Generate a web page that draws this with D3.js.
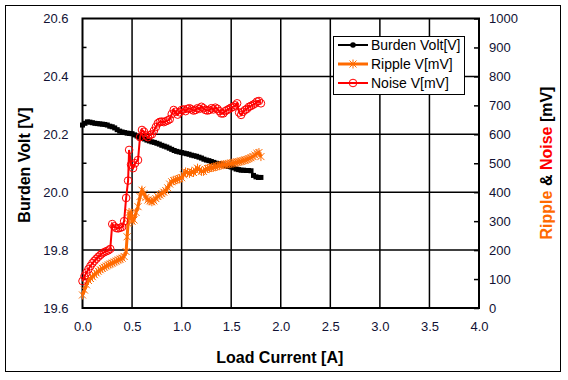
<!DOCTYPE html>
<html><head><meta charset="utf-8">
<script src="https://cdn.jsdelivr.net/npm/d3@7"></script>
<style>body{margin:0;background:#fff}svg{display:block}</style>
</head><body><svg id="c" width="568" height="380"></svg>
<script>
const xTicks = [0,0.5,1.0,1.5,2.0,2.5,3.0,3.5,4.0];
const leftTicks = [19.6,19.8,20.0,20.2,20.4,20.6];
const leftMinor = [19.7,19.9,20.1,20.3,20.5];
const rightTicks = [0,100,200,300,400,500,600,700,800,900,1000];

const burdenCurrent = [0,0.025,0.05,0.075,0.1,0.125,0.15,0.175,0.2,0.225,0.25,0.275,0.3,0.325,0.35,0.375,0.4,0.425,0.45,0.475,0.5,0.525,0.55,0.575,0.6,0.625,0.65,0.675,0.7,0.725,0.75,0.775,0.8,0.825,0.85,0.875,0.9,0.925,0.95,0.975,1.0,1.025,1.05,1.075,1.1,1.125,1.15,1.175,1.2,1.225,1.25,1.275,1.3,1.325,1.35,1.375,1.4,1.425,1.45,1.475,1.5,1.525,1.55,1.575,1.6,1.625,1.65,1.675,1.7,1.725,1.75,1.775,1.8];
const burdenVolt = [20.232,20.238,20.243,20.242,20.240,20.238,20.237,20.236,20.235,20.234,20.232,20.228,20.226,20.222,20.216,20.211,20.208,20.206,20.204,20.203,20.202,20.198,20.194,20.190,20.187,20.184,20.180,20.177,20.174,20.172,20.169,20.166,20.162,20.159,20.156,20.152,20.148,20.144,20.141,20.139,20.137,20.135,20.133,20.131,20.128,20.126,20.124,20.121,20.118,20.114,20.111,20.109,20.106,20.103,20.100,20.099,20.097,20.094,20.091,20.089,20.087,20.084,20.080,20.078,20.076,20.076,20.075,20.075,20.074,20.058,20.053,20.051,20.051];

const rippleCurrent = [0,0.02,0.04,0.06,0.08,0.1,0.12,0.14,0.16,0.18,0.2,0.22,0.24,0.26,0.28,0.3,0.32,0.34,0.36,0.38,0.4,0.42,0.44,0.45,0.46,0.47,0.48,0.49,0.5,0.52,0.54,0.56,0.58,0.6,0.62,0.64,0.66,0.68,0.7,0.72,0.74,0.76,0.78,0.8,0.82,0.84,0.86,0.88,0.9,0.92,0.94,0.96,0.98,1.0,1.02,1.04,1.06,1.08,1.1,1.12,1.14,1.16,1.18,1.2,1.22,1.24,1.26,1.28,1.3,1.32,1.34,1.36,1.38,1.4,1.42,1.44,1.46,1.48,1.5,1.52,1.54,1.56,1.58,1.6,1.62,1.64,1.66,1.68,1.7,1.72,1.74,1.76,1.78,1.8];
const rippleMv = [45,62,80,95,102,108,115,121,127,132,137,141,145,149,152,155,159,162,166,169,172,178,195,246,292,330,320,327,300,304,330,350,385,407,395,382,373,370,367,370,378,385,390,395,400,405,415,428,436,440,442,445,447,450,460,470,468,465,470,468,476,483,478,472,472,478,482,483,485,486,488,490,492,494,495,496,497,498,500,501,502,504,505,507,509,511,513,516,519,523,528,534,537,523];

const noiseCurrent = [0,0.02,0.04,0.06,0.08,0.1,0.12,0.14,0.16,0.18,0.2,0.22,0.24,0.26,0.28,0.3,0.32,0.34,0.36,0.38,0.4,0.42,0.44,0.46,0.47,0.49,0.51,0.53,0.56,0.58,0.6,0.62,0.64,0.66,0.68,0.7,0.72,0.74,0.76,0.78,0.8,0.82,0.84,0.86,0.88,0.9,0.92,0.94,0.96,0.98,1.0,1.02,1.04,1.06,1.08,1.1,1.12,1.14,1.16,1.18,1.2,1.22,1.24,1.26,1.28,1.3,1.32,1.34,1.36,1.38,1.4,1.42,1.44,1.46,1.48,1.5,1.52,1.54,1.56,1.58,1.6,1.62,1.64,1.66,1.68,1.7,1.72,1.74,1.76,1.78,1.8];
const noiseMv = [93,110,122,134,145,155,163,170,177,183,189,193,196,199,204,290,282,276,275,277,280,300,380,440,546,495,483,500,511,590,615,609,596,590,597,600,612,625,638,643,644,642,645,648,652,670,684,678,668,676,684,686,680,688,690,686,682,684,690,688,695,690,684,682,684,690,686,692,688,680,672,672,680,684,688,692,695,700,707,675,667,678,684,688,695,698,702,706,713,715,707];

const W = 568, H = 380;
const L = 82.5, R = 479, T = 18.5, B = 308;
const svg = d3.select('#c');
const x = d3.scaleLinear().domain([0,4]).range([L,R]);
const yL = d3.scaleLinear().domain([19.6,20.6]).range([B,T]);
const yR = d3.scaleLinear().domain([0,1000]).range([B,T]);
const font = "'Liberation Sans', Arial, sans-serif";
const tickColor = '#111133';

svg.append('rect').attr('x',5.5).attr('y',5.5).attr('width',555).attr('height',366)
  .attr('fill','#fff').attr('stroke','#000').attr('stroke-width',1);

// gridlines
svg.append('g').selectAll('line').data(xTicks.slice(1,-1)).join('line')
  .attr('x1',d=>x(d)).attr('x2',d=>x(d)).attr('y1',T).attr('y2',B)
  .attr('stroke','#000').attr('stroke-width',1.5);
svg.append('g').selectAll('line').data(leftTicks.slice(1,-1)).join('line')
  .attr('x1',L).attr('x2',R).attr('y1',d=>yL(d)).attr('y2',d=>yL(d))
  .attr('stroke','#000').attr('stroke-width',1.5);

// axes via d3
const gx = svg.append('g').attr('transform',`translate(0,${B})`)
  .call(d3.axisBottom(x).tickValues(xTicks).tickSize(0).tickPadding(14).tickFormat(d3.format('.1f')));
const gl = svg.append('g').attr('transform',`translate(${L},0)`)
  .call(d3.axisLeft(yL).tickValues(leftTicks).tickSize(0).tickPadding(14).tickFormat(d3.format('.1f')));
const gr = svg.append('g').attr('transform',`translate(${R},0)`)
  .call(d3.axisRight(yR).tickValues(rightTicks).tickSize(-5).tickPadding(10).tickFormat(d3.format('d')));
[gx,gl,gr].forEach(g=>{
  g.select('.domain').remove();
  g.selectAll('text').attr('font-family',font).attr('font-size',13).attr('fill',tickColor);
});
gr.selectAll('line').attr('stroke','#000').attr('stroke-width',1.5);
svg.append('g').selectAll('line').data(leftMinor).join('line')
  .attr('x1',L).attr('x2',L+4).attr('y1',d=>yL(d)).attr('y2',d=>yL(d))
  .attr('stroke','#000').attr('stroke-width',1.5);

// plot frame
svg.append('rect').attr('x',L).attr('y',T).attr('width',R-L).attr('height',B-T)
  .attr('fill','none').attr('stroke','#000').attr('stroke-width',2);

// series
const burden = burdenCurrent.map((c,i)=>[c,burdenVolt[i]]);
const ripple = rippleCurrent.map((c,i)=>[c,rippleMv[i]]);
const noise = noiseCurrent.map((c,i)=>[c,noiseMv[i]]);
const orange = '#ff6a00', red = '#ff0000';

svg.append('path').datum(burden)
  .attr('d',d3.line().x(d=>x(d[0])).y(d=>yL(d[1])))
  .attr('fill','none').attr('stroke','#000').attr('stroke-width',2);
svg.append('g').selectAll('rect').data(burden).join('rect')
  .attr('x',d=>x(d[0])-2.5).attr('y',d=>yL(d[1])-2.5).attr('width',5).attr('height',5)
  .attr('fill','#000');

svg.append('path').datum(ripple)
  .attr('d',d3.line().x(d=>x(d[0])).y(d=>yR(d[1])))
  .attr('fill','none').attr('stroke',orange).attr('stroke-width',3);
const star = 'M-3.5,-3.5L3.5,3.5M-3.5,3.5L3.5,-3.5M0,-4.5L0,4.5';
svg.append('g').selectAll('path').data(ripple).join('path')
  .attr('transform',d=>`translate(${x(d[0])},${yR(d[1])})`).attr('d',star)
  .attr('fill','none').attr('stroke',orange).attr('stroke-width',1);

svg.append('path').datum(noise)
  .attr('d',d3.line().x(d=>x(d[0])).y(d=>yR(d[1])))
  .attr('fill','none').attr('stroke',red).attr('stroke-width',2);
svg.append('g').selectAll('circle').data(noise).join('circle')
  .attr('cx',d=>x(d[0])).attr('cy',d=>yR(d[1])).attr('r',3.8)
  .attr('fill','none').attr('stroke',red).attr('stroke-width',1);

// axis titles
svg.append('text').attr('x',(L+R)/2 - 1).attr('y',363).attr('text-anchor','middle')
  .attr('font-family',font).attr('font-weight','bold').attr('font-size',16).attr('fill','#000')
  .text('Load Current [A]');
svg.append('text').attr('transform','translate(30,165) rotate(-90)').attr('text-anchor','middle')
  .attr('font-family',font).attr('font-weight','bold').attr('font-size',16).attr('fill','#000')
  .text('Burden Volt [V]');
const rt = svg.append('text').attr('transform','translate(552,163) rotate(-90)').attr('text-anchor','middle')
  .attr('font-family',font).attr('font-weight','bold').attr('font-size',16);
rt.append('tspan').attr('fill',orange).text('Ripple ');
rt.append('tspan').attr('fill','#000').text('& ');
rt.append('tspan').attr('fill',red).text('Noise ');
rt.append('tspan').attr('fill','#000').text('[mV]');

// legend
const lg = svg.append('g');
lg.append('rect').attr('x',333.5).attr('y',36.5).attr('width',131).attr('height',58)
  .attr('fill','#fff').attr('stroke','#000').attr('stroke-width',1);
const items = [
  {name:'Burden Volt[V]', color:'#000', w:2, type:'dot'},
  {name:'Ripple V[mV]', color:orange, w:3, type:'star'},
  {name:'Noise V[mV]', color:red, w:2, type:'circle'}
];
items.forEach((it,i)=>{
  const cy = 45 + i*19;
  lg.append('line').attr('x1',338).attr('x2',368).attr('y1',cy).attr('y2',cy)
    .attr('stroke',it.color).attr('stroke-width',it.w);
  if(it.type==='dot') lg.append('circle').attr('cx',353).attr('cy',cy).attr('r',2.8).attr('fill','#000');
  if(it.type==='star') lg.append('path').attr('transform',`translate(353,${cy})`).attr('d',star)
      .attr('fill','none').attr('stroke',orange).attr('stroke-width',1);
  if(it.type==='circle') lg.append('circle').attr('cx',353).attr('cy',cy).attr('r',3.8)
      .attr('fill','none').attr('stroke',red).attr('stroke-width',1);
  lg.append('text').attr('x',371).attr('y',cy+5).attr('font-family',font).attr('font-size',14)
    .attr('fill','#000').text(it.name);
});
</script></body></html>
